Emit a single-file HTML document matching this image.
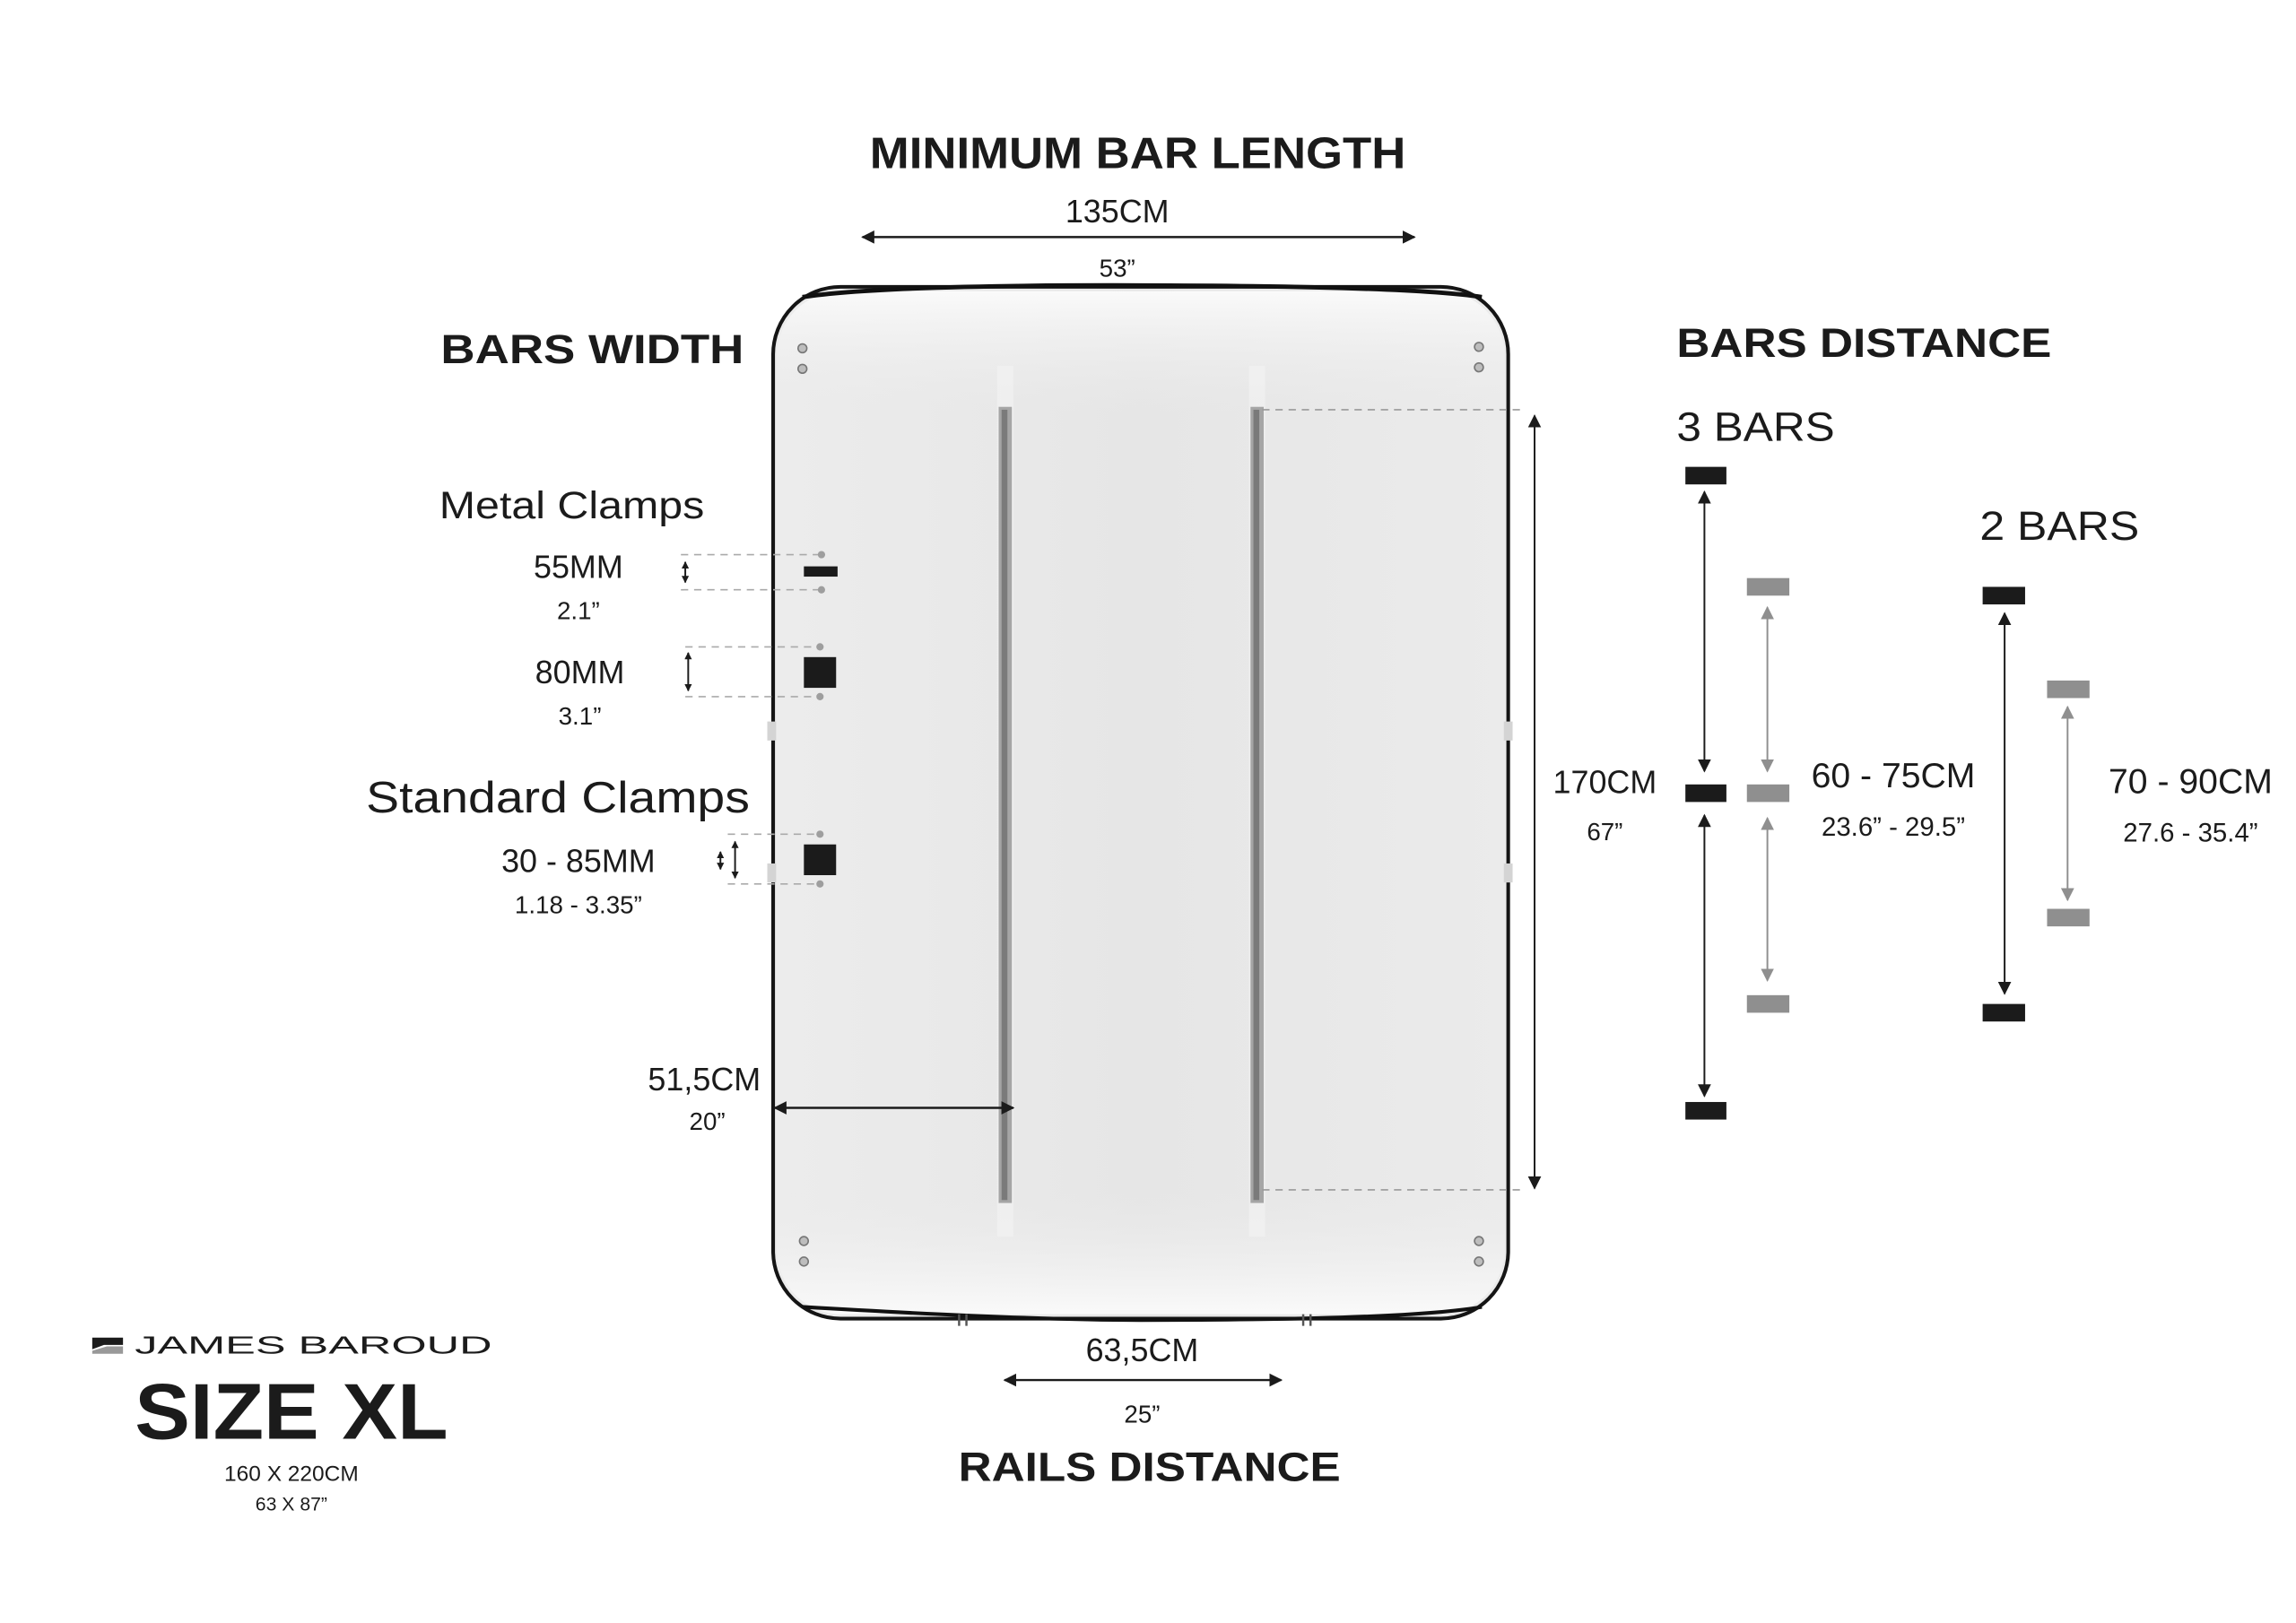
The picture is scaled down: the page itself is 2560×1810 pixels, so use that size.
<!DOCTYPE html>
<html><head><meta charset="utf-8"><style>
html,body{margin:0;padding:0;background:#fff;}
svg{display:block;}
text{font-family:"Liberation Sans",sans-serif;fill:#1b1b1b;}
.b{font-weight:bold;}
</style></head><body>
<svg width="2560" height="1810" viewBox="0 0 1568 1109" preserveAspectRatio="none" xmlns="http://www.w3.org/2000/svg">
<defs>
<marker id="ak" viewBox="0 0 10 10" refX="9" refY="5" markerWidth="9" markerHeight="9" orient="auto-start-reverse" markerUnits="userSpaceOnUse"><path d="M0,0L10,5L0,10z" fill="#1b1b1b"/></marker>
<marker id="ag" viewBox="0 0 10 10" refX="9" refY="5" markerWidth="9" markerHeight="9" orient="auto-start-reverse" markerUnits="userSpaceOnUse"><path d="M0,0L10,5L0,10z" fill="#8f8f8f"/></marker>
<marker id="as" viewBox="0 0 10 10" refX="9" refY="5" markerWidth="5" markerHeight="5" orient="auto-start-reverse" markerUnits="userSpaceOnUse"><path d="M0,0L10,5L0,10z" fill="#1b1b1b"/></marker>
<linearGradient id="bg" x1="0" x2="1" y1="0" y2="0">
<stop offset="0" stop-color="#ececec"/><stop offset="0.5" stop-color="#e6e6e6"/><stop offset="1" stop-color="#ebebeb"/></linearGradient>
<linearGradient id="vg" x1="0" x2="0" y1="0" y2="1">
<stop offset="0" stop-color="#fafafa"/><stop offset="0.12" stop-color="#eaeaea" stop-opacity="0"/><stop offset="0.88" stop-color="#eaeaea" stop-opacity="0"/><stop offset="1" stop-color="#fafafa"/></linearGradient>
</defs>

<!-- box -->
<rect x="528" y="196" width="502" height="705" rx="46" ry="46" fill="url(#bg)" stroke="#151515" stroke-width="2.5"/>
<rect x="530.5" y="199" width="497" height="699" rx="44" ry="44" fill="url(#vg)"/>
<path d="M548,203 Q600,195 760,195 Q960,195 1012,203" fill="none" stroke="#111" stroke-width="3"/>
<path d="M548,893 Q700,902 780,902 Q960,902 1012,893" fill="none" stroke="#111" stroke-width="2.5"/>
<!-- rails -->
<rect x="681" y="250" width="11" height="595" fill="#f3f3f3" opacity="0.6"/>
<rect x="853" y="250" width="11" height="595" fill="#f3f3f3" opacity="0.6"/>
<rect x="682" y="278" width="9" height="544" fill="#a5a5a5"/>
<rect x="684" y="280" width="4" height="540" fill="#7a7a7a"/>
<rect x="854" y="278" width="9" height="544" fill="#a5a5a5"/>
<rect x="856" y="280" width="4" height="540" fill="#7a7a7a"/>
<!-- screws -->
<g fill="#bdbdbd" stroke="#777" stroke-width="1">
<circle cx="548" cy="238" r="3"/><circle cx="548" cy="252" r="3"/>
<circle cx="1010" cy="237" r="3"/><circle cx="1010" cy="251" r="3"/>
<circle cx="549" cy="848" r="3"/><circle cx="549" cy="862" r="3"/>
<circle cx="1010" cy="848" r="3"/><circle cx="1010" cy="862" r="3"/>
</g>
<!-- side tabs -->
<g fill="#d4d4d4"><rect x="524" y="493" width="6" height="13"/><rect x="524" y="590" width="6" height="13"/><rect x="1027" y="493" width="6" height="13"/><rect x="1027" y="590" width="6" height="13"/></g>
<g stroke="#555" stroke-width="1.5" fill="none"><path d="M655,898v8M660,898v8M890,898v8M895,898v8"/></g>

<!-- top -->
<text x="777" y="115" font-size="30" class="b" text-anchor="middle" textLength="366" lengthAdjust="spacingAndGlyphs">MINIMUM BAR LENGTH</text>
<text x="763" y="152" font-size="22" text-anchor="middle">135CM</text>
<line x1="589" y1="162" x2="966" y2="162" stroke="#1b1b1b" stroke-width="1.5" marker-start="url(#ak)" marker-end="url(#ak)"/>
<text x="763" y="189" font-size="17" text-anchor="middle" fill="#444">53”</text>

<!-- bars width -->
<text x="301" y="248" font-size="28" class="b" textLength="207" lengthAdjust="spacingAndGlyphs">BARS WIDTH</text>
<text x="300" y="354" font-size="26" textLength="181" lengthAdjust="spacingAndGlyphs">Metal Clamps</text>
<text x="395" y="395" font-size="22" text-anchor="middle">55MM</text>
<text x="395" y="423" font-size="17" text-anchor="middle" fill="#444">2.1”</text>
<g stroke="#aaa" stroke-width="1" stroke-dasharray="5,4"><line x1="465" y1="379" x2="560" y2="379"/><line x1="465" y1="403" x2="560" y2="403"/>
<line x1="468" y1="442" x2="560" y2="442"/><line x1="468" y1="476" x2="560" y2="476"/>
<line x1="497" y1="570" x2="560" y2="570"/><line x1="497" y1="604" x2="560" y2="604"/></g>
<g fill="#9e9e9e"><circle cx="561" cy="379" r="2.5"/><circle cx="561" cy="403" r="2.5"/><circle cx="560" cy="442" r="2.5"/><circle cx="560" cy="476" r="2.5"/><circle cx="560" cy="570" r="2.5"/><circle cx="560" cy="604" r="2.5"/></g>
<rect x="549" y="387" width="23" height="7" fill="#1b1b1b"/>
<line x1="468" y1="384" x2="468" y2="398" stroke="#1b1b1b" stroke-width="1.2" marker-start="url(#as)" marker-end="url(#as)"/>
<text x="396" y="467" font-size="22" text-anchor="middle">80MM</text>
<text x="396" y="495" font-size="17" text-anchor="middle" fill="#444">3.1”</text>
<rect x="549" y="449" width="22" height="21" fill="#1b1b1b"/>
<line x1="470" y1="446" x2="470" y2="472" stroke="#1b1b1b" stroke-width="1.2" marker-start="url(#as)" marker-end="url(#as)"/>
<text x="250" y="555" font-size="30" textLength="262" lengthAdjust="spacingAndGlyphs">Standard Clamps</text>
<text x="395" y="596" font-size="22" text-anchor="middle">30 - 85MM</text>
<text x="395" y="624" font-size="17" text-anchor="middle" fill="#444">1.18 - 3.35”</text>
<rect x="549" y="577" width="22" height="21" fill="#1b1b1b"/>
<line x1="492" y1="582" x2="492" y2="594" stroke="#1b1b1b" stroke-width="1.2" marker-start="url(#as)" marker-end="url(#as)"/>
<line x1="502" y1="575" x2="502" y2="600" stroke="#1b1b1b" stroke-width="1.2" marker-start="url(#as)" marker-end="url(#as)"/>

<text x="481" y="745" font-size="22" text-anchor="middle">51,5CM</text>
<text x="483" y="772" font-size="17" text-anchor="middle" fill="#444">20”</text>
<line x1="529" y1="757" x2="692" y2="757" stroke="#1b1b1b" stroke-width="1.5" marker-start="url(#ak)" marker-end="url(#ak)"/>

<!-- 170 -->
<g stroke="#999" stroke-width="1" stroke-dasharray="5,4"><line x1="862" y1="280" x2="1040" y2="280"/><line x1="862" y1="813" x2="1040" y2="813"/></g>
<line x1="1048" y1="284" x2="1048" y2="812" stroke="#1b1b1b" stroke-width="1.2" marker-start="url(#ak)" marker-end="url(#ak)"/>
<text x="1096" y="542" font-size="22" text-anchor="middle">170CM</text>
<text x="1096" y="574" font-size="17" text-anchor="middle" fill="#444">67”</text>

<!-- bars distance -->
<text x="1145" y="244" font-size="28" class="b" textLength="256" lengthAdjust="spacingAndGlyphs">BARS DISTANCE</text>
<text x="1145" y="301" font-size="28" textLength="108" lengthAdjust="spacingAndGlyphs">3 BARS</text>
<g fill="#1b1b1b"><rect x="1151" y="319" width="28" height="12"/><rect x="1151" y="536" width="28" height="12"/><rect x="1151" y="753" width="28" height="12"/>
<rect x="1354" y="401" width="29" height="12"/><rect x="1354" y="686" width="29" height="12"/></g>
<g fill="#8f8f8f"><rect x="1193" y="395" width="29" height="12"/><rect x="1193" y="536" width="29" height="12"/><rect x="1193" y="680" width="29" height="12"/>
<rect x="1398" y="465" width="29" height="12"/><rect x="1398" y="621" width="29" height="12"/></g>
<g stroke-width="1.2">
<line x1="1164" y1="336" x2="1164" y2="527" stroke="#1b1b1b" marker-start="url(#ak)" marker-end="url(#ak)"/>
<line x1="1164" y1="557" x2="1164" y2="749" stroke="#1b1b1b" marker-start="url(#ak)" marker-end="url(#ak)"/>
<line x1="1207" y1="415" x2="1207" y2="527" stroke="#8f8f8f" marker-start="url(#ag)" marker-end="url(#ag)"/>
<line x1="1207" y1="559" x2="1207" y2="670" stroke="#8f8f8f" marker-start="url(#ag)" marker-end="url(#ag)"/>
<line x1="1369" y1="419" x2="1369" y2="679" stroke="#1b1b1b" marker-start="url(#ak)" marker-end="url(#ak)"/>
<line x1="1412" y1="483" x2="1412" y2="615" stroke="#8f8f8f" marker-start="url(#ag)" marker-end="url(#ag)"/>
</g>
<text x="1293" y="538" font-size="24" text-anchor="middle">60 - 75CM</text>
<text x="1293" y="571" font-size="18" text-anchor="middle" fill="#444">23.6” - 29.5”</text>
<text x="1352" y="369" font-size="28" textLength="109" lengthAdjust="spacingAndGlyphs">2 BARS</text>
<text x="1496" y="542" font-size="24" text-anchor="middle">70 - 90CM</text>
<text x="1496" y="575" font-size="18" text-anchor="middle" fill="#444">27.6 - 35.4”</text>

<!-- logo -->
<path d="M63,914h21v5h-13l-8,3z" fill="#1b1b1b"/><path d="M63,925v-2l10,-3h11v5z" fill="#999"/>
<text x="92" y="925" font-size="17" textLength="244" lengthAdjust="spacingAndGlyphs">JAMES BAROUD</text>
<text x="92" y="983" font-size="54" class="b" textLength="214" lengthAdjust="spacingAndGlyphs">SIZE XL</text>
<text x="199" y="1012" font-size="15" text-anchor="middle">160 X 220CM</text>
<text x="199" y="1032" font-size="13" text-anchor="middle">63 X 87”</text>

<!-- rails distance -->
<text x="780" y="930" font-size="22" text-anchor="middle">63,5CM</text>
<line x1="686" y1="943" x2="875" y2="943" stroke="#1b1b1b" stroke-width="1.5" marker-start="url(#ak)" marker-end="url(#ak)"/>
<text x="780" y="972" font-size="17" text-anchor="middle" fill="#444">25”</text>
<text x="785" y="1012" font-size="28" class="b" text-anchor="middle" textLength="261" lengthAdjust="spacingAndGlyphs">RAILS DISTANCE</text>
</svg>
</body></html>
